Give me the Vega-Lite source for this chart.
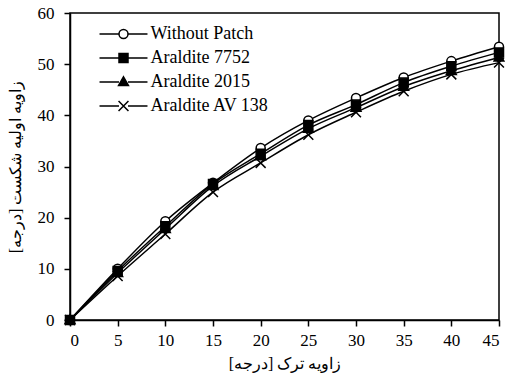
{
  "$schema": "https://vega.github.io/schema/vega-lite/v6.json",
  "width": 429,
  "height": 307,
  "autosize": {"type": "none"},
  "padding": {"left": 70, "top": 13, "right": 6, "bottom": 63},
  "background": "white",
  "config": {
    "font": "Liberation Serif",
    "view": {"stroke": "black", "strokeWidth": 1.5},
    "axis": {
      "grid": false,
      "domainColor": "black",
      "domainWidth": 1.5,
      "tickColor": "black",
      "tickWidth": 1.5,
      "tickSize": 6,
      "labelColor": "black",
      "labelFont": "Liberation Serif",
      "labelFontSize": 17,
      "titleColor": "black",
      "titleFont": "Liberation Serif",
      "titleFontSize": 16,
      "titleFontWeight": "normal"
    }
  },
  "data": {
    "values": [
      {"series": "Without Patch", "x": 0, "y": 0},
      {"series": "Without Patch", "x": 5, "y": 10},
      {"series": "Without Patch", "x": 10, "y": 19.3},
      {"series": "Without Patch", "x": 15, "y": 26.8},
      {"series": "Without Patch", "x": 20, "y": 33.6},
      {"series": "Without Patch", "x": 25, "y": 39},
      {"series": "Without Patch", "x": 30, "y": 43.4},
      {"series": "Without Patch", "x": 35, "y": 47.4},
      {"series": "Without Patch", "x": 40, "y": 50.6},
      {"series": "Without Patch", "x": 45, "y": 53.4},
      {"series": "Araldite 7752", "x": 0, "y": 0},
      {"series": "Araldite 7752", "x": 5, "y": 9.6},
      {"series": "Araldite 7752", "x": 10, "y": 18.3},
      {"series": "Araldite 7752", "x": 15, "y": 26.6},
      {"series": "Araldite 7752", "x": 20, "y": 32.5},
      {"series": "Araldite 7752", "x": 25, "y": 38.1},
      {"series": "Araldite 7752", "x": 30, "y": 42.1},
      {"series": "Araldite 7752", "x": 35, "y": 46.4},
      {"series": "Araldite 7752", "x": 40, "y": 49.6},
      {"series": "Araldite 7752", "x": 45, "y": 52.3},
      {"series": "Araldite 2015", "x": 0, "y": 0},
      {"series": "Araldite 2015", "x": 5, "y": 9.2},
      {"series": "Araldite 2015", "x": 10, "y": 17.8},
      {"series": "Araldite 2015", "x": 15, "y": 26.2},
      {"series": "Araldite 2015", "x": 20, "y": 32},
      {"series": "Araldite 2015", "x": 25, "y": 37.4},
      {"series": "Araldite 2015", "x": 30, "y": 41.5},
      {"series": "Araldite 2015", "x": 35, "y": 45.6},
      {"series": "Araldite 2015", "x": 40, "y": 48.7},
      {"series": "Araldite 2015", "x": 45, "y": 51.3},
      {"series": "Araldite AV 138", "x": 0, "y": 0},
      {"series": "Araldite AV 138", "x": 5, "y": 8.6},
      {"series": "Araldite AV 138", "x": 10, "y": 16.8},
      {"series": "Araldite AV 138", "x": 15, "y": 25},
      {"series": "Araldite AV 138", "x": 20, "y": 30.7},
      {"series": "Araldite AV 138", "x": 25, "y": 36.2},
      {"series": "Araldite AV 138", "x": 30, "y": 40.6},
      {"series": "Araldite AV 138", "x": 35, "y": 44.7},
      {"series": "Araldite AV 138", "x": 40, "y": 48},
      {"series": "Araldite AV 138", "x": 45, "y": 50.3}
    ]
  },
  "encoding": {
    "x": {
      "field": "x",
      "type": "quantitative",
      "scale": {"domain": [0, 45], "nice": false},
      "axis": {
        "values": [0, 5, 10, 15, 20, 25, 30, 35, 40, 45],
        "title": "زاویه ترک [درجه]",
        "labelPadding": 6,
        "titlePadding": 7
      }
    },
    "y": {
      "field": "y",
      "type": "quantitative",
      "scale": {"domain": [0, 60], "nice": false},
      "axis": {
        "values": [0, 10, 20, 30, 40, 50, 60],
        "title": "زاویه اولیه شکست [درجه]",
        "labelPadding": 10,
        "titleBaseline": "middle",
        "titleX": -55
      }
    }
  },
  "layer": [
    {
      "mark": {"type": "line", "interpolate": "monotone", "strokeWidth": 1.5},
      "encoding": {
        "stroke": {
          "field": "series",
          "type": "nominal",
          "sort": ["Without Patch", "Araldite 7752", "Araldite 2015", "Araldite AV 138"],
          "scale": {"range": ["black", "black", "black", "black"]},
          "legend": {
            "title": null,
            "orient": "none",
            "legendX": 44.5,
            "legendY": 12,
            "padding": 0,
            "rowPadding": 6,
            "labelOffset": 18,
            "labelFontSize": 18,
            "labelOpacity": 0,
            "symbolSize": 81,
            "symbolType": "M-5.33,0L-1,0M1,0L5.33,0",
            "symbolStrokeWidth": 1.5,
            "symbolStrokeColor": "black"
          }
        }
      }
    },
    {
      "mark": {"type": "point", "filled": true, "opacity": 1, "stroke": "black", "strokeWidth": 1.5, "size": 81},
      "encoding": {
        "shape": {
          "field": "series",
          "type": "nominal",
          "scale": {
            "domain": ["Without Patch", "Araldite 7752", "Araldite 2015", "Araldite AV 138"],
            "range": ["circle", "square", "M0,-1.15L1.1,0.8L-1.1,0.8Z", "M-1.1,-1.1L1.1,1.1M-1.1,1.1L1.1,-1.1"]
          },
          "legend": {
            "title": null,
            "orient": "none",
            "legendX": 44.5,
            "legendY": 12,
            "padding": 0,
            "rowPadding": 6,
            "labelOffset": 18,
            "labelFontSize": 18,
            "labelColor": "black",
            "symbolSize": 81,
            "symbolStrokeWidth": 1.5,
            "symbolOpacity": 1,
            "encode": {
              "symbols": {
                "stroke": {"value": "black"},
                "strokeWidth": {"value": 1.5}
              }
            }
          }
        },
        "fill": {
          "field": "series",
          "type": "nominal",
          "scale": {
            "domain": ["Without Patch", "Araldite 7752", "Araldite 2015", "Araldite AV 138"],
            "range": ["white", "black", "black", "black"]
          },
          "legend": {
            "title": null,
            "orient": "none",
            "legendX": 44.5,
            "legendY": 12,
            "padding": 0,
            "rowPadding": 6,
            "labelOffset": 18,
            "labelFontSize": 18,
            "labelColor": "black",
            "symbolSize": 81,
            "symbolStrokeWidth": 1.5,
            "symbolOpacity": 1,
            "encode": {
              "symbols": {
                "stroke": {"value": "black"},
                "strokeWidth": {"value": 1.5}
              }
            }
          }
        }
      }
    }
  ]
}
